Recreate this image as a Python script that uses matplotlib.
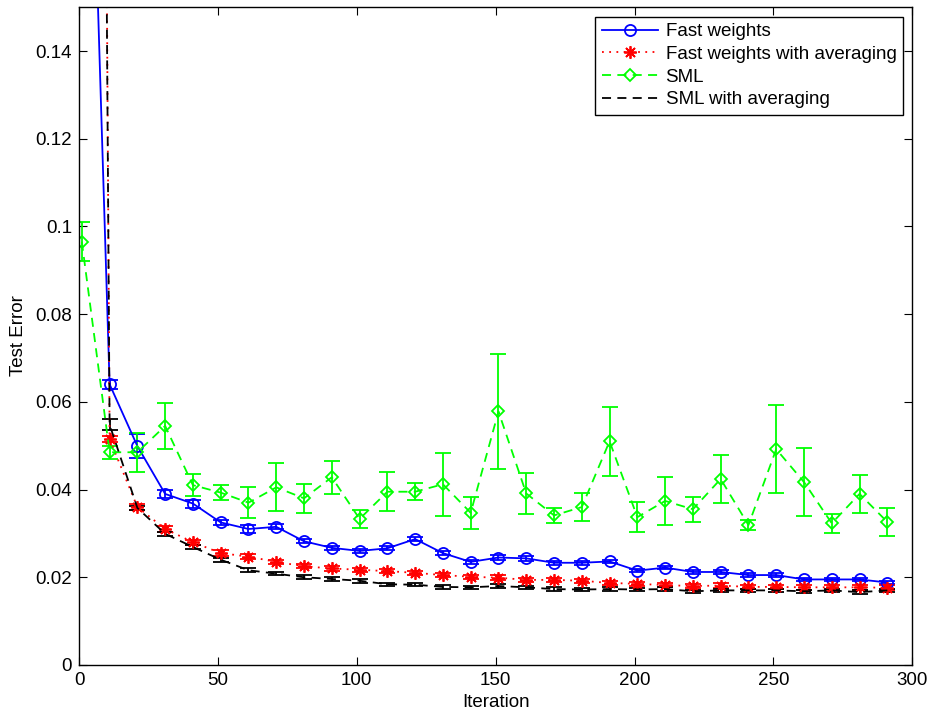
import matplotlib
matplotlib.use("Agg")
import matplotlib.pyplot as plt
from matplotlib.ticker import FuncFormatter
from matplotlib.lines import Line2D

# iterations at which the test error was measured
iters = list(range(1, 300, 10))

# Fast weights
fw = [0.27, 0.064, 0.0499, 0.039, 0.0368, 0.0325, 0.031, 0.0315, 0.0282, 0.0267,
      0.026, 0.0266, 0.0287, 0.0255, 0.0235, 0.0245, 0.0243, 0.0233, 0.0233, 0.0236,
      0.0215, 0.0222, 0.0212, 0.0212, 0.0205, 0.0205, 0.0195, 0.0195, 0.0195, 0.0188]
fw_err = [0.01, 0.001, 0.0028, 0.001, 0.0009, 0.0005, 0.0009, 0.0006, 0.0005, 0.0005,
          0.0005, 0.0005, 0.0005, 0.0005, 0.0004, 0.0005, 0.0005, 0.0005, 0.0005, 0.0004,
          0.0004, 0.0004, 0.0004, 0.0004, 0.0004, 0.0004, 0.0004, 0.0004, 0.0004, 0.0004]

# Fast weights with averaging
fwa = [1.1, 0.0515, 0.036, 0.031, 0.028, 0.0255, 0.0247, 0.0235, 0.0225, 0.022,
       0.0217, 0.0214, 0.021, 0.0205, 0.0201, 0.0199, 0.0194, 0.0194, 0.0192, 0.0187,
       0.0185, 0.0182, 0.018, 0.0181, 0.0178, 0.0178, 0.0177, 0.0177, 0.0177, 0.0176]
fwa_err = [0.02, 0.0007, 0.0006, 0.0006, 0.0006, 0.0006, 0.0005, 0.0005, 0.0005, 0.0005,
           0.0005, 0.0005, 0.0005, 0.0005, 0.0005, 0.0005, 0.0005, 0.0005, 0.0005, 0.0005,
           0.0005, 0.0005, 0.0005, 0.0005, 0.0005, 0.0005, 0.0006, 0.0006, 0.0006, 0.0006]

# SML
sml = [0.0965, 0.0485, 0.0485, 0.0545, 0.041, 0.0393, 0.037, 0.0405, 0.038, 0.0428,
       0.0333, 0.0395, 0.0395, 0.0412, 0.0347, 0.0578, 0.0391, 0.0341, 0.036, 0.051,
       0.0337, 0.0374, 0.0355, 0.0424, 0.0319, 0.0492, 0.0417, 0.0323, 0.039, 0.0326]
sml_err = [0.0045, 0.0015, 0.0045, 0.0052, 0.0025, 0.0017, 0.0035, 0.0055, 0.0033, 0.0038,
           0.0021, 0.0044, 0.0019, 0.0072, 0.0037, 0.0131, 0.0047, 0.0017, 0.0032, 0.0078,
           0.0034, 0.0055, 0.0028, 0.0055, 0.0011, 0.01, 0.0078, 0.0022, 0.0043, 0.0032]

# SML with averaging
smla = [1.0, 0.0548, 0.0358, 0.0299, 0.0269, 0.024, 0.0216, 0.0208, 0.02, 0.0196,
        0.0192, 0.0184, 0.0183, 0.0178, 0.0177, 0.018, 0.0177, 0.0173, 0.0172, 0.0173,
        0.0172, 0.0173, 0.0168, 0.017, 0.017, 0.017, 0.0168, 0.017, 0.0166, 0.017]
smla_err = [0.02, 0.0012, 0.0005, 0.0005, 0.0005, 0.0005, 0.0004, 0.0004, 0.0004, 0.0004,
            0.0004, 0.0004, 0.0004, 0.0004, 0.0004, 0.0004, 0.0004, 0.0004, 0.0004, 0.0004,
            0.0004, 0.0004, 0.0004, 0.0004, 0.0004, 0.0004, 0.0004, 0.0004, 0.0004, 0.0004]

labels = ["Fast weights", "Fast weights with averaging", "SML", "SML with averaging"]

plt.rcParams['font.family'] = ['Liberation Sans', 'DejaVu Sans']
plt.rcParams['font.size'] = 13.5

fig = plt.figure(figsize=(9.3, 7.15), dpi=100)
ax = fig.add_axes([0.085, 0.07, 0.896, 0.92])

lw = 1.3
ast = (8, 2, 0)  # MATLAB style asterisk
series = [
    (fw, fw_err, dict(color="#0000ff", ls="-", marker="o", ms=8, mfc="none")),
    (fwa, fwa_err, dict(color="#ff0000", ls=(0, (1, 3)), marker=ast, ms=9)),
    (sml, sml_err, dict(color="#00ff00", ls=(0, (5, 3.5)), marker="D", ms=6.5, mfc="none")),
    (smla, smla_err, dict(color="#000000", ls=(0, (5, 3.5)), marker="None")),
]
handles = []
for vals, err, st in series:
    ax.errorbar(iters, vals, yerr=err, lw=lw, elinewidth=lw, capsize=5.5,
                capthick=lw, mew=lw, **st)
    handles.append(Line2D([], [], lw=lw, mew=lw, **st))

ax.set_xlim(0, 300)
ax.set_ylim(0, 0.15)
ax.set_xticks(range(0, 301, 50))
ax.set_yticks([0, 0.02, 0.04, 0.06, 0.08, 0.1, 0.12, 0.14])
ax.yaxis.set_major_formatter(FuncFormatter(lambda v, p: "%g" % round(v, 4)))
ax.tick_params(direction="in", length=5.5, width=0.8, top=True, right=True, pad=5)
for s in ax.spines.values():
    s.set_linewidth(1.0)

ax.set_xlabel("Iteration", labelpad=4)
ax.set_ylabel("Test Error", labelpad=6)

leg = ax.legend(handles, labels, loc="upper right", numpoints=1, handlelength=3.0,
                borderaxespad=0.5, fancybox=False, framealpha=1, edgecolor="black",
                borderpad=0.35, labelspacing=0.3, handletextpad=0.4)
leg.get_frame().set_linewidth(1.0)

fig.savefig("out.png", dpi=100)
